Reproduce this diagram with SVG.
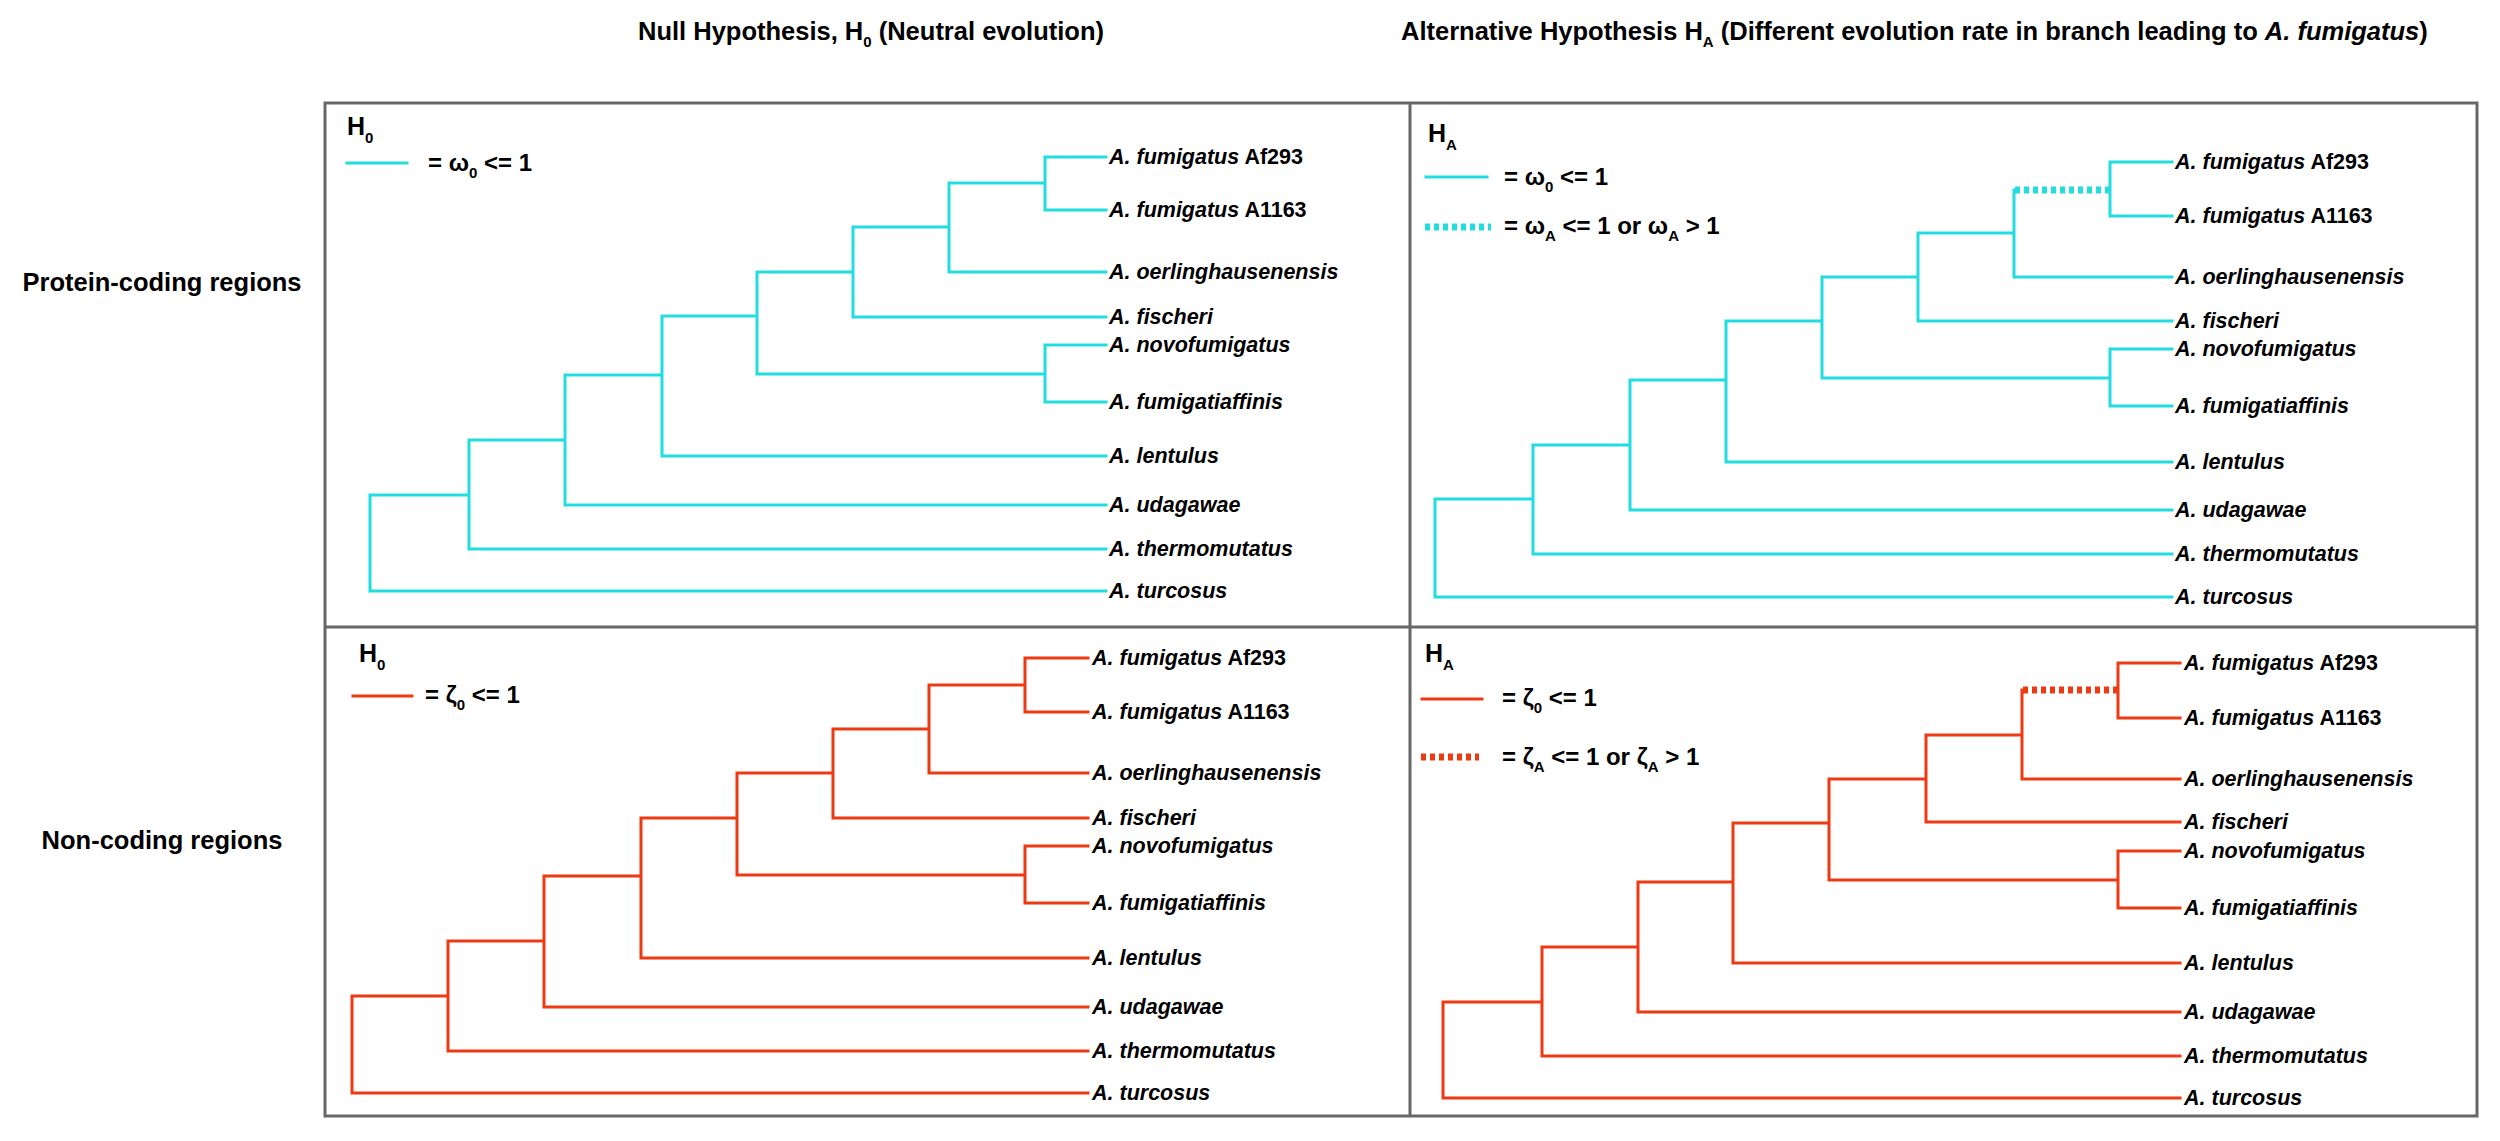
<svg xmlns="http://www.w3.org/2000/svg" width="2500" height="1141" viewBox="0 0 2500 1141">
<style>
text{font-family:"Liberation Sans",Arial,sans-serif;font-weight:bold;fill:#000}
.title{font-size:25.5px}
.row{font-size:25.5px}
.hl{font-size:25px}
.lg{font-size:24px}
.sub{font-size:15px}
.leaf{font-size:21.5px}
.it{font-style:italic}
.frame{fill:none;stroke:#676767;stroke-width:3}
.cy{fill:none;stroke:#22DDE0;stroke-width:3;stroke-linecap:square}
.rd{fill:none;stroke:#EE3A12;stroke-width:3;stroke-linecap:square}
.cyd{fill:none;stroke:#22DDE0;stroke-width:7;stroke-dasharray:5 4}
.rdd{fill:none;stroke:#EE3A12;stroke-width:7;stroke-dasharray:5 4}
</style>
<rect width="2500" height="1141" fill="#fff"/>

<g id="titles">
<text class="title" x="638" y="40">Null Hypothesis, H<tspan class="sub" dy="7">0</tspan><tspan dy="-7"> (Neutral evolution)</tspan></text>
<text class="title" x="1401" y="40">Alternative Hypothesis H<tspan class="sub" dy="7">A</tspan><tspan dy="-7"> (Different evolution rate in branch leading to </tspan><tspan class="it">A. fumigatus</tspan>)</text>
</g>
<g id="row-labels">
<text class="row" x="162" y="291" text-anchor="middle">Protein-coding regions</text>
<text class="row" x="162" y="849" text-anchor="middle">Non-coding regions</text>
</g>

<g id="frame">
<rect class="frame" x="325" y="103" width="2152" height="1013"/>
<line class="frame" x1="1410" y1="103" x2="1410" y2="1116"/>
<line class="frame" x1="325" y1="627" x2="2477" y2="627"/>
</g>

<!-- Legends -->
<g id="legend-tl">
<text class="hl" x="347" y="135">H<tspan class="sub" dy="8">0</tspan></text>
<line class="cy" x1="347" y1="163" x2="407" y2="163"/>
<text class="lg" x="428" y="171">= ω<tspan class="sub" dy="7">0</tspan><tspan dy="-7"> &lt;= 1</tspan></text>
</g>
<g id="legend-tr">
<text class="hl" x="1428" y="142">H<tspan class="sub" dy="8">A</tspan></text>
<line class="cy" x1="1426" y1="177" x2="1487" y2="177"/>
<text class="lg" x="1504" y="185">= ω<tspan class="sub" dy="7">0</tspan><tspan dy="-7"> &lt;= 1</tspan></text>
<line class="cyd" x1="1425" y1="227" x2="1491" y2="227"/>
<text class="lg" x="1504" y="234">= ω<tspan class="sub" dy="7">A</tspan><tspan dy="-7"> &lt;= 1 or ω</tspan><tspan class="sub" dy="7">A</tspan><tspan dy="-7"> &gt; 1</tspan></text>
</g>
<g id="legend-bl">
<text class="hl" x="359" y="662">H<tspan class="sub" dy="8">0</tspan></text>
<line class="rd" x1="353" y1="696" x2="412" y2="696"/>
<text class="lg" x="425" y="703">= ζ<tspan class="sub" dy="7">0</tspan><tspan dy="-7"> &lt;= 1</tspan></text>
</g>
<g id="legend-br">
<text class="hl" x="1425" y="662">H<tspan class="sub" dy="8">A</tspan></text>
<line class="rd" x1="1422" y1="699" x2="1482" y2="699"/>
<text class="lg" x="1502" y="706">= ζ<tspan class="sub" dy="7">0</tspan><tspan dy="-7"> &lt;= 1</tspan></text>
<line class="rdd" x1="1421" y1="757" x2="1479" y2="757"/>
<text class="lg" x="1502" y="765">= ζ<tspan class="sub" dy="7">A</tspan><tspan dy="-7"> &lt;= 1 or ζ</tspan><tspan class="sub" dy="7">A</tspan><tspan dy="-7"> &gt; 1</tspan></text>
</g>

<!-- Connectors (tree branches) -->
<g id="connectors">
<path id="branches-tl" class="cy" d="M370 495V591M370 591H1106M370 495H469M469 440V549M469 549H1106M469 440H565M565 375V505M565 505H1106M565 375H662M662 316V456M662 456H1106M662 316H757M757 272V374M757 374H1045M1045 345V402M1045 345H1106M1045 402H1106M757 272H853M853 227V317M853 317H1106M853 227H949M949 183V272M949 272H1106M949 183H1045M1045 157V210M1045 157H1106M1045 210H1106"/>
<path id="branches-tr" class="cy" d="M1435 499V597M1435 597H2172M1435 499H1533M1533 445V554M1533 554H2172M1533 445H1630M1630 380V510M1630 510H2172M1630 380H1726M1726 321V462M1726 462H2172M1726 321H1822M1822 277V378M1822 378H2110M2110 349V406M2110 349H2172M2110 406H2172M1822 277H1918M1918 233V321M1918 321H2172M1918 233H2014M2014 190V277M2014 277H2172M2110 162V216M2110 162H2172M2110 216H2172"/>
<path id="branch-tr-fumigatus" class="cyd" d="M2015 190H2110"/>
<path id="branches-bl" class="rd" d="M352 996V1093M352 1093H1088M352 996H448M448 941V1051M448 1051H1088M448 941H544M544 876V1007M544 1007H1088M544 876H641M641 818V958M641 958H1088M641 818H737M737 773V875M737 875H1025M1025 846V903M1025 846H1088M1025 903H1088M737 773H833M833 729V818M833 818H1088M833 729H929M929 685V773M929 773H1088M929 685H1025M1025 658V712M1025 658H1088M1025 712H1088"/>
<path id="branches-br" class="rd" d="M1443 1002V1098M1443 1098H2180M1443 1002H1542M1542 947V1056M1542 1056H2180M1542 947H1638M1638 882V1012M1638 1012H2180M1638 882H1733M1733 823V963M1733 963H2180M1733 823H1829M1829 779V880M1829 880H2118M2118 851V908M2118 851H2180M2118 908H2180M1829 779H1926M1926 735V822M1926 822H2180M1926 735H2022M2022 690V779M2022 779H2180M2118 663V718M2118 663H2180M2118 718H2180"/>
<path id="branch-br-fumigatus" class="rdd" d="M2023 690H2118"/>
</g>

<!-- Leaf nodes: top-left -->
<g id="tl-af293"><text class="leaf" x="1109" y="164"><tspan class="it">A. fumigatus</tspan> Af293</text></g>
<g id="tl-a1163"><text class="leaf" x="1109" y="217"><tspan class="it">A. fumigatus</tspan> A1163</text></g>
<g id="tl-oerl"><text class="leaf it" x="1109" y="279">A. oerlinghausenensis</text></g>
<g id="tl-fisch"><text class="leaf it" x="1109" y="324">A. fischeri</text></g>
<g id="tl-novo"><text class="leaf it" x="1109" y="352">A. novofumigatus</text></g>
<g id="tl-fumaff"><text class="leaf it" x="1109" y="409">A. fumigatiaffinis</text></g>
<g id="tl-lent"><text class="leaf it" x="1109" y="463">A. lentulus</text></g>
<g id="tl-udag"><text class="leaf it" x="1109" y="512">A. udagawae</text></g>
<g id="tl-thermo"><text class="leaf it" x="1109" y="556">A. thermomutatus</text></g>
<g id="tl-turc"><text class="leaf it" x="1109" y="598">A. turcosus</text></g>

<!-- Leaf nodes: top-right -->
<g id="tr-af293"><text class="leaf" x="2175" y="169"><tspan class="it">A. fumigatus</tspan> Af293</text></g>
<g id="tr-a1163"><text class="leaf" x="2175" y="223"><tspan class="it">A. fumigatus</tspan> A1163</text></g>
<g id="tr-oerl"><text class="leaf it" x="2175" y="284">A. oerlinghausenensis</text></g>
<g id="tr-fisch"><text class="leaf it" x="2175" y="328">A. fischeri</text></g>
<g id="tr-novo"><text class="leaf it" x="2175" y="356">A. novofumigatus</text></g>
<g id="tr-fumaff"><text class="leaf it" x="2175" y="413">A. fumigatiaffinis</text></g>
<g id="tr-lent"><text class="leaf it" x="2175" y="469">A. lentulus</text></g>
<g id="tr-udag"><text class="leaf it" x="2175" y="517">A. udagawae</text></g>
<g id="tr-thermo"><text class="leaf it" x="2175" y="561">A. thermomutatus</text></g>
<g id="tr-turc"><text class="leaf it" x="2175" y="604">A. turcosus</text></g>

<!-- Leaf nodes: bottom-left -->
<g id="bl-af293"><text class="leaf" x="1092" y="665"><tspan class="it">A. fumigatus</tspan> Af293</text></g>
<g id="bl-a1163"><text class="leaf" x="1092" y="719"><tspan class="it">A. fumigatus</tspan> A1163</text></g>
<g id="bl-oerl"><text class="leaf it" x="1092" y="780">A. oerlinghausenensis</text></g>
<g id="bl-fisch"><text class="leaf it" x="1092" y="825">A. fischeri</text></g>
<g id="bl-novo"><text class="leaf it" x="1092" y="853">A. novofumigatus</text></g>
<g id="bl-fumaff"><text class="leaf it" x="1092" y="910">A. fumigatiaffinis</text></g>
<g id="bl-lent"><text class="leaf it" x="1092" y="965">A. lentulus</text></g>
<g id="bl-udag"><text class="leaf it" x="1092" y="1014">A. udagawae</text></g>
<g id="bl-thermo"><text class="leaf it" x="1092" y="1058">A. thermomutatus</text></g>
<g id="bl-turc"><text class="leaf it" x="1092" y="1100">A. turcosus</text></g>

<!-- Leaf nodes: bottom-right -->
<g id="br-af293"><text class="leaf" x="2184" y="670"><tspan class="it">A. fumigatus</tspan> Af293</text></g>
<g id="br-a1163"><text class="leaf" x="2184" y="725"><tspan class="it">A. fumigatus</tspan> A1163</text></g>
<g id="br-oerl"><text class="leaf it" x="2184" y="786">A. oerlinghausenensis</text></g>
<g id="br-fisch"><text class="leaf it" x="2184" y="829">A. fischeri</text></g>
<g id="br-novo"><text class="leaf it" x="2184" y="858">A. novofumigatus</text></g>
<g id="br-fumaff"><text class="leaf it" x="2184" y="915">A. fumigatiaffinis</text></g>
<g id="br-lent"><text class="leaf it" x="2184" y="970">A. lentulus</text></g>
<g id="br-udag"><text class="leaf it" x="2184" y="1019">A. udagawae</text></g>
<g id="br-thermo"><text class="leaf it" x="2184" y="1063">A. thermomutatus</text></g>
<g id="br-turc"><text class="leaf it" x="2184" y="1105">A. turcosus</text></g>
</svg>
